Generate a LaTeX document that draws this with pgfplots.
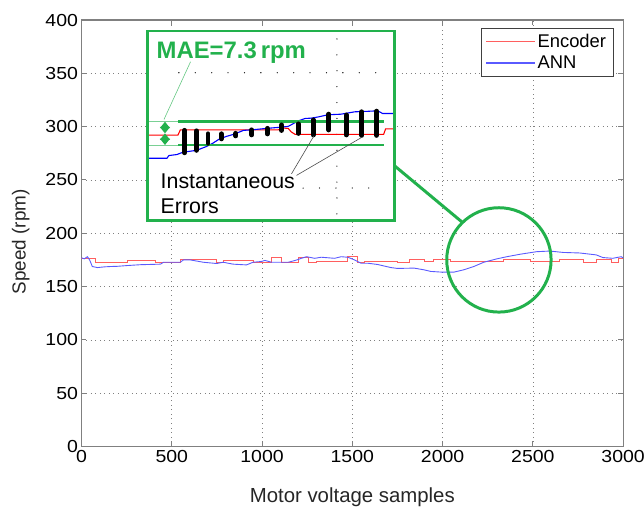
\documentclass[border=0pt]{standalone}
\usepackage{fontspec}
\setmainfont{Liberation Sans}
\newfontfamily\hfont[FakeStretch=1.12]{Liberation Sans}
\usepackage{pgfplots}
\pgfplotsset{compat=1.18}
\usetikzlibrary{arrows.meta}
\definecolor{encred}{RGB}{255,95,95}
\definecolor{annblue}{RGB}{90,90,255}
\definecolor{mgreen}{RGB}{34,177,76}
\definecolor{axgray}{RGB}{128,128,128}

\begin{document}
\begin{tikzpicture}
\path[use as bounding box] (-82pt,-63pt) rectangle (566pt,449.2pt);
\begin{axis}[at={(0pt,0pt)}, anchor=south west, scale only axis,
  width=545pt, height=429pt,
  xmin=0, xmax=3000, ymin=0, ymax=400,
  xtick={0,500,...,3000}, ytick={0,50,...,400},
  grid=major,
  grid style={axgray, line width=0.6pt, dash pattern=on 0.6pt off 4pt},
  axis line style={axgray, line width=1.2pt},
  tick style={axgray, line width=1pt}, major tick length=5pt,
  tick align=inside,
  /pgf/number format/assume math mode=true,
  /pgf/number format/set thousands separator={},
  ticklabel style={font=\hfont\fontsize{17.5}{20}\selectfont, text=black},
  xlabel={Motor voltage samples}, ylabel={Speed (rpm)},
  xlabel style={font=\fontsize{20.5}{23}\selectfont, text=black!85,
    at={(axis description cs:0.5,-0.12)}, anchor=center},
  ylabel style={font=\fontsize{19}{22}\selectfont, text=black!85,
    at={(axis description cs:-0.112,0.48)}, anchor=center},
  legend style={at={(0.9817,0.9814)}, anchor=north east, draw=black!75,
    font=\fontsize{18.5}{21}\selectfont,
    inner xsep=5pt, inner ysep=4pt, row sep=3pt},
  legend cell align=left,
]
\addlegendimage{legend image code/.code={\draw[encred, line width=1.1pt] (0pt,0pt) -- (49pt,0pt);}}
\addlegendentry{Encoder}
\addlegendimage{legend image code/.code={\draw[annblue, line width=1.1pt] (0pt,0pt) -- (49pt,0pt);}}
\addlegendentry{ANN}
\addplot[color=encred, line width=0.9pt, const plot, forget plot] coordinates {
(0,176) (80,172.8) (253,174.4) (409,172.5) (547,175) (749,172.8) (785,174.4)
(950,173) (1053,177) (1108,172.8) (1200,177) (1255,172.8) (1301,174)
(1475,178) (1530,172.8) (1567,174) (1750,173) (1815,175) (1897,173.5)
(1952,175) (2044,173.5) (2136,174) (2338,175) (2484,174) (2576,173.4)
(2649,175) (2778,172.8) (2851,175) (2934,172.8) (2976,176.5) (3000,176.5)};
\addplot[color=annblue, line width=0.9pt, forget plot] coordinates {
(0,177) (15,176) (33,178) (45,175) (60,168.8) (88,167.8) (130,168.5)
(161,168.8) (200,169) (253,169.7) (327,170.5) (437,171) (455,172.8)
(547,172.8) (565,175) (602,175) (675,172.8) (749,171.6) (785,172.8)
(840,171) (914,170.3) (950,172.8) (996,173.5) (1016,174.5) (1053,172.8)
(1145,172.8) (1182,174.4) (1218,176.5) (1246,178) (1292,176.5) (1328,177.5)
(1402,176.5) (1438,178) (1475,177.5) (1512,175) (1548,171.9) (1585,171.9)
(1640,170.7) (1714,167.8) (1750,167) (1842,167.3) (1897,165.7) (1934,164.2)
(1998,163.5) (2062,163.5) (2117,165.7) (2173,168.8) (2228,172.8) (2301,176)
(2356,178) (2429,180.3) (2521,182.7) (2594,183.3) (2668,182) (2759,181.5)
(2851,179.7) (2888,177.2) (2943,176.5) (2989,178) (3000,177)};
\draw[mgreen, line width=3pt] (axis cs:2312,175) circle[radius=52.5pt];
\draw[mgreen, line width=3pt] (axis cs:1729,264) -- (axis cs:2108,210.5);
\end{axis}

\begin{axis}[at={(66pt,227pt)}, anchor=south west, scale only axis,
  width=249pt, height=191pt,
  xmin=148, xmax=397, ymin=28, ymax=219, y dir=reverse,
  hide axis, clip=false]
\fill[white] (axis cs:148,28) rectangle (axis cs:397,219);
\draw[black, line width=1.3pt, line cap=round, dash pattern=on 0pt off 16pt]
  (axis cs:339,36) -- (axis cs:339,219);
\draw[black, line width=1.3pt, line cap=round, dash pattern=on 0pt off 16.5pt]
  (axis cs:180,70) -- (axis cs:385,70);
\draw[black, line width=1.3pt, line cap=round, dash pattern=on 0pt off 16.5pt]
  (axis cs:305,186) -- (axis cs:385,186);
\addplot[red, line width=1.1pt] coordinates {
(150,132.7) (179,132.7) (181.5,127.5) (280,127.5) (283,125.5) (290,126)
(293,129.5) (297,132) (386,132) (388,126.5) (396,126.5)};
\addplot[blue, line width=1.1pt] coordinates {
(150,156) (168,156) (170,153.3) (178,152.3) (184,150) (198,148) (207,144.5)
(214,141) (221,136.5) (228,134) (235,132) (245,128) (255,127.3) (268,126)
(280,125) (290,124) (300,118.5) (307,116) (313,115.7) (320,114.5)
(330,112.3) (343,111.7) (350,110.5) (357,109.3) (370,108.8) (380,108.3)
(385,111) (396,111)};
\addplot[mgreen!60, line width=0.6pt] coordinates {(148,119.3) (179,119.3)};
\addplot[mgreen!60, line width=0.6pt] coordinates {(148,142.7) (179,142.7)};
\addplot[mgreen, line width=3pt] coordinates {(179.3,119.3) (386.7,119.3)};
\addplot[mgreen, line width=3pt] coordinates {(179.3,142.7) (386.7,142.7)};
\addplot[black, line width=5pt, line cap=round, unbounded coords=jump] coordinates {
(185.7,128) (185.7,150.5) (185.7,nan)
(197.7,128.5) (197.7,148) (197.7,nan)
(209.3,131.5) (209.3,141) (209.3,nan)
(222.7,131.5) (222.7,136.5) (222.7,nan)
(237.3,131) (237.3,133.5) (237.3,nan)
(253.3,127.5) (253.3,132.5) (253.3,nan)
(269,126) (269,131.5) (269,nan)
(283.3,122.5) (283.3,128) (283.3,nan)
(300,121.5) (300,131) (300,nan)
(315,117.5) (315,132.5) (315,nan)
(331,111.7) (331,127.5) (331,nan)
(348.3,112.5) (348.3,132.5) (348.3,nan)
(364,109.3) (364,133) (364,nan)
(379,108.7) (379,133)};
\draw[mgreen, line width=2pt, {Triangle[width=10pt,length=6.5pt]}-{Triangle[width=10pt,length=6.5pt]}]
  (axis cs:166,119.3) -- (axis cs:166,131);
\draw[mgreen, line width=2pt, {Triangle[width=10pt,length=6.5pt]}-{Triangle[width=10pt,length=6.5pt]}]
  (axis cs:166,131) -- (axis cs:166,142.7);
\draw[mgreen!70, line width=0.6pt] (axis cs:191.7,59) -- (axis cs:165,117);
\draw[black!70, line width=0.6pt] (axis cs:293.3,171.7) -- (axis cs:316,133.3);
\draw[black!70, line width=0.6pt] (axis cs:298.3,173.3) -- (axis cs:364,135);
\node[anchor=base west, inner sep=0pt, text=mgreen, font=\fontsize{24}{27}\bfseries]
  at (axis cs:157.5,56) {MAE=7.3\,rpm};
\node[anchor=base west, inner sep=0pt, font=\fontsize{21.5}{24}\selectfont]
  at (axis cs:161.5,186.7) {Instantaneous};
\node[anchor=base west, inner sep=0pt, font=\fontsize{21.5}{24}\selectfont]
  at (axis cs:161.5,211.7) {Errors};
\draw[mgreen, line width=3pt] (axis cs:148,28) rectangle (axis cs:397,219);
\end{axis}
\end{tikzpicture}
\end{document}
